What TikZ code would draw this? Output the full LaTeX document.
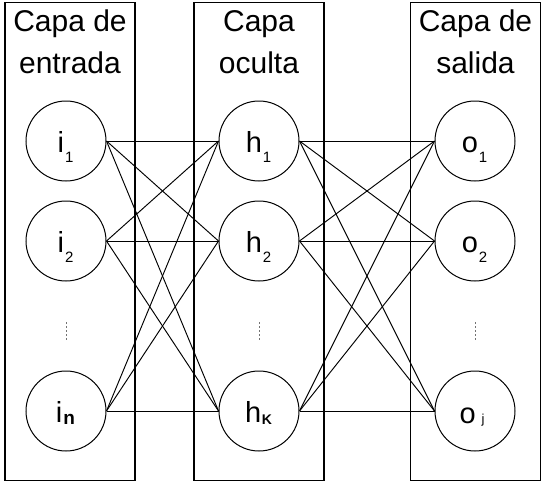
\documentclass[tikz,border=0pt]{standalone}
\usepackage{fontspec}
\setmainfont{Liberation Sans}
\newcommand\nlbl[2]{{\fontsize{29}{29}\selectfont #1}\kern1pt\raisebox{-9.7pt}{\fontsize{15}{15}\selectfont #2}}
\begin{document}
\begin{tikzpicture}[x=1pt,y=-1pt,
  layer/.style={draw,line width=1.3pt,minimum width=130pt,minimum height=478pt,inner sep=0pt},
  neuron/.style={circle,draw,line width=1pt,minimum size=80pt,inner sep=0pt},
  title/.style={font=\fontsize{30}{30}\selectfont,anchor=base,inner sep=0pt},
  lab/.style={anchor=base,inner sep=0pt},
  conn/.style={line width=0.95pt},
  vdots/.style={draw=black!55,line width=1pt,dash pattern=on 2pt off 2pt}]
\useasboundingbox (0,0) rectangle (545,482);
% layer boxes
\node[layer] (Lin) at (70,241.5) {};
\node[layer] (Lhid) at (259,241.5) {};
\node[layer] (Lout) at (475.5,241.5) {};
% titles
\node[title] (tin1) at (70,31) {Capa de};
\node[title] (tin2) at (70,73) {entrada};
\node[title] (thid1) at (259,31) {Capa};
\node[title] (thid2) at (259,73) {oculta};
\node[title] (tout1) at (475.5,31) {Capa de};
\node[title] (tout2) at (475.5,73) {salida};
% neurons
\node[neuron] (i1) at (66,141) {};
\node[neuron] (i2) at (66,241) {};
\node[neuron] (iN) at (66,411) {};
\node[neuron] (h1) at (259,141) {};
\node[neuron] (h2) at (259,241) {};
\node[neuron] (hK) at (259,411) {};
\node[neuron] (o1) at (475,141) {};
\node[neuron] (o2) at (475,241) {};
\node[neuron] (oJ) at (475,411) {};
% labels
\node[lab] (li1) at (65.5,152.5) {\nlbl{i}{1}};
\node[lab] (li2) at (65.5,252.5) {\nlbl{i}{2}};
\node[lab] (liN) at (65.5,422) {{\fontsize{29}{29}\selectfont i}\kern1pt\raisebox{-2.5pt}{\fontsize{19}{19}\selectfont\bfseries n}};
\node[lab] (lh1) at (258.5,152.5) {\nlbl{h}{1}};
\node[lab] (lh2) at (258.5,252.5) {\nlbl{h}{2}};
\node[lab] (lhK) at (258.5,422) {{\fontsize{29}{29}\selectfont h}\kern0.5pt\raisebox{-2.6pt}{\fontsize{14}{14}\selectfont\bfseries K}};
\node[lab] (lo1) at (474.5,152.5) {\nlbl{o}{1}};
\node[lab] (lo2) at (474.5,252.5) {\nlbl{o}{2}};
\node[lab] (loJ) at (472,423) {{\fontsize{29}{29}\selectfont o}\hspace{6pt}{\fontsize{13}{13}\selectfont j}};
% connections
\foreach \a in {i1,i2,iN}
  \foreach \b in {h1,h2,hK}
    \draw[conn] (\a.east) -- (\b.west);
\foreach \a in {h1,h2,hK}
  \foreach \b in {o1,o2,oJ}
    \draw[conn] (\a.east) -- (\b.west);
% vertical dots
\coordinate (d1a) at (66,322); \coordinate (d1b) at (66,341);
\coordinate (d2a) at (259,322); \coordinate (d2b) at (259,341);
\coordinate (d3a) at (475,322); \coordinate (d3b) at (475,341);
\draw[vdots] (d1a) -- (d1b);
\draw[vdots] (d2a) -- (d2b);
\draw[vdots] (d3a) -- (d3b);
\end{tikzpicture}
\end{document}
